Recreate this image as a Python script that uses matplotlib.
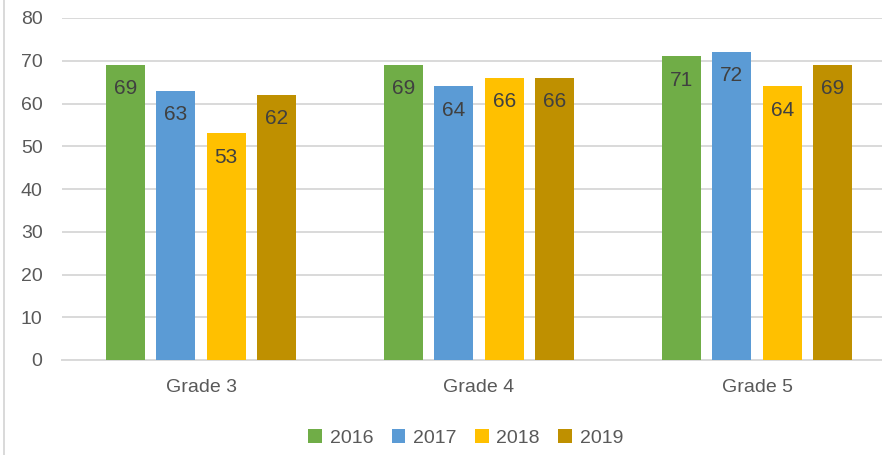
import numpy as np
import matplotlib.pyplot as plt
from matplotlib.lines import Line2D

grades = ["Grade 3", "Grade 4", "Grade 5"]
years = ["2016", "2017", "2018", "2019"]
scores_2016 = [69, 69, 71]
scores_2017 = [63, 64, 72]
scores_2018 = [53, 66, 64]
scores_2019 = [62, 66, 69]

colors = ["#70AD47", "#5B9BD5", "#FFC000", "#BF9000"]

plt.rcParams['font.family'] = ['Liberation Sans', 'DejaVu Sans']

fig = plt.figure(figsize=(8.82, 4.55), dpi=100)
# plot area runs past the right edge (the reference is cropped there)
ax = fig.add_axes([62 / 882, 95 / 455, 834 / 882, 342 / 455])

x = np.arange(len(grades))
slot = 0.181
width = 0.141
series = [scores_2016, scores_2017, scores_2018, scores_2019]

for i, (vals, yr) in enumerate(zip(series, years)):
    pos = x + (i - 1.5) * slot
    bars = ax.bar(pos, vals, width, color=colors[i], label=yr, zorder=3)
    for b, v in zip(bars, vals):
        ax.annotate(str(v), (b.get_x() + b.get_width() / 2, v),
                    xytext=(0, -17), textcoords="offset points",
                    ha="center", va="center", fontsize=15, color="#404040",
                    zorder=4)

ax.set_xlim(-0.5, 2.5)
ax.set_ylim(0, 80)
ax.set_yticks(np.arange(0, 81, 10))
ax.set_xticks(x)
ax.set_xticklabels(grades)
ax.tick_params(axis="both", length=0, labelsize=14, labelcolor="#595959")
ax.tick_params(axis="y", pad=14)
ax.tick_params(axis="x", pad=14)
ax.grid(axis="y", color="#D9D9D9", linewidth=1.4, zorder=0)
for s in ["top", "right", "left"]:
    ax.spines[s].set_visible(False)
ax.spines["bottom"].set_color("#D9D9D9")
ax.spines["bottom"].set_linewidth(1.4)

fig.legend(loc="center", bbox_to_anchor=(0.528, 0.037), ncol=4, frameon=False,
           fontsize=14, handlelength=0.7, handleheight=0.7,
           handletextpad=0.4, columnspacing=0.95, labelcolor="#595959")

# faint chart-area border on the left
fig.add_artist(Line2D([3.5 / 882, 3.5 / 882], [0, 1], color="#D9D9D9",
                      linewidth=1.4, transform=fig.transFigure))

fig.savefig("out.png", dpi=100)
